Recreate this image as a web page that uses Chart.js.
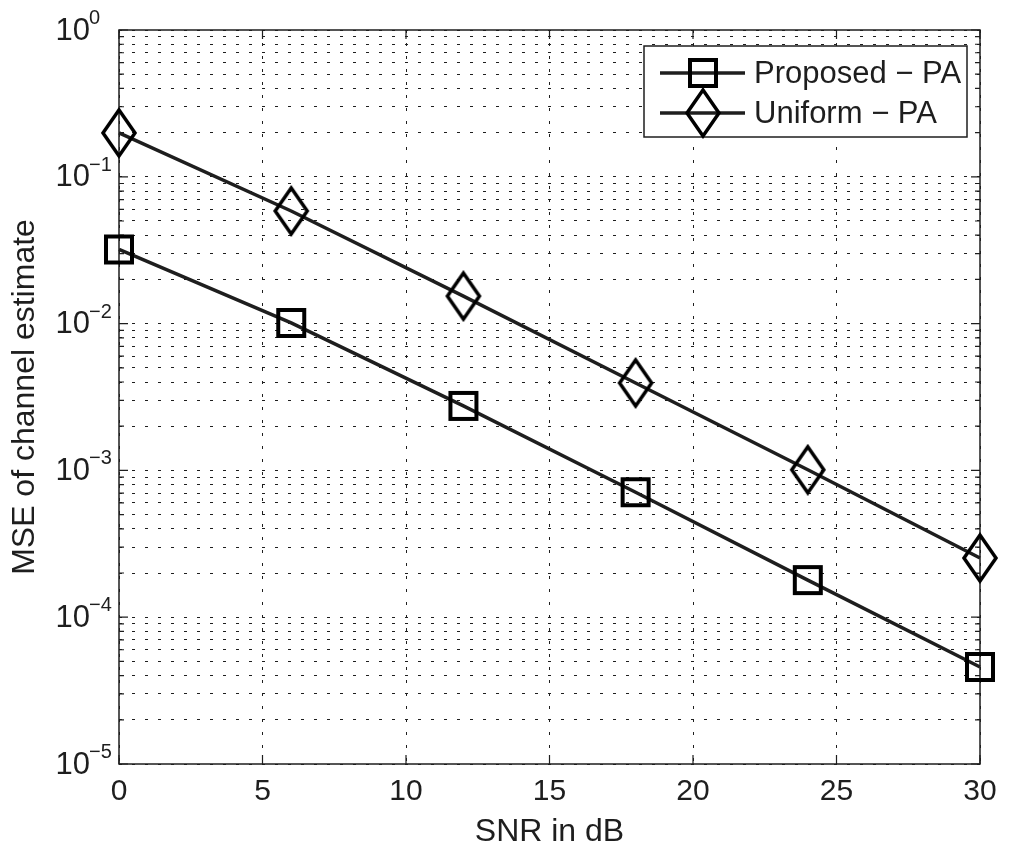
<!DOCTYPE html>
<html lang="en">
<head>
    <meta charset="UTF-8">
    <title>MSE of channel estimate vs SNR</title>
    <script src="https://cdn.jsdelivr.net/npm/chart.js"></script>
    <style>
        body { margin: 0; background: #fff; }
        canvas { display: block; }
    </style>
</head>
<body>
    <canvas id="mseChart" width="1014" height="856"></canvas>
    <script>
        // values
        const snrDb = [0, 6, 12, 18, 24, 30];
        const proposedPA = [0.032, 0.0101, 0.00275, 0.00071, 0.000179, 0.0000458];
        const uniformPA = [0.199, 0.0585, 0.0154, 0.00394, 0.00101, 0.000253];
        const seriesNames = ['Proposed \u2212 PA', 'Uniform \u2212 PA'];
        const xTicks = [0, 5, 10, 15, 20, 25, 30];
        const yExponents = [-5, -4, -3, -2, -1, 0];

        const ink = '#1e1e1e';
        const fontFamily = '"Liberation Sans", Arial, Helvetica, sans-serif';

        function markerCanvas(kind) {
            const c = document.createElement('canvas');
            const g = c.getContext('2d');
            g.strokeStyle = ink;
            if (kind === 'square') {
                c.width = 32; c.height = 32;
                g.lineWidth = 4;
                g.strokeRect(3, 3, 26, 26);
            } else {
                c.width = 38; c.height = 52;
                g.lineWidth = 3.5;
                g.beginPath();
                g.moveTo(19, 3);
                g.lineTo(35, 26);
                g.lineTo(19, 49);
                g.lineTo(3, 26);
                g.closePath();
                g.stroke();
            }
            return c;
        }
        const squareMark = markerCanvas('square');
        const diamondMark = markerCanvas('diamond');

        const toPoints = ys => snrDb.map((x, i) => ({ x: x, y: ys[i] }));

        // frame, inward ticks, y labels with exponents, legend
        const matlabLook = {
            id: 'matlabLook',
            beforeDatasetsDraw(chart) {
                const { ctx, chartArea: a } = chart;
                const xs = chart.scales.x, ys = chart.scales.y;
                ctx.save();
                ctx.strokeStyle = ink;
                ctx.lineWidth = 1.5;
                ctx.strokeRect(a.left, a.top, a.right - a.left, a.bottom - a.top);
                ctx.lineWidth = 1.2;
                ctx.beginPath();
                xTicks.forEach(v => {
                    const px = xs.getPixelForValue(v);
                    ctx.moveTo(px, a.bottom); ctx.lineTo(px, a.bottom - 9);
                    ctx.moveTo(px, a.top); ctx.lineTo(px, a.top + 9);
                });
                ys.ticks.forEach(t => {
                    const py = ys.getPixelForValue(t.value);
                    const len = t.major ? 9 : 5;
                    ctx.moveTo(a.left, py); ctx.lineTo(a.left + len, py);
                    ctx.moveTo(a.right, py); ctx.lineTo(a.right - len, py);
                });
                ctx.stroke();
                ctx.restore();
            },
            afterDraw(chart) {
                const { ctx } = chart;
                const ys = chart.scales.y;
                ctx.save();
                ctx.fillStyle = ink;
                yExponents.forEach(k => {
                    const py = ys.getPixelForValue(Math.pow(10, k));
                    ctx.font = '31px ' + fontFamily;
                    ctx.textAlign = 'right';
                    ctx.textBaseline = 'middle';
                    ctx.fillText('10', 90, py + 1);
                    ctx.font = '20px ' + fontFamily;
                    ctx.textAlign = 'left';
                    ctx.textBaseline = 'alphabetic';
                    ctx.fillText(k < 0 ? '\u2212' + (-k) : String(k), 89, py - 6);
                });

                // legend box
                const box = { x: 644, y: 46, w: 323, h: 91 };
                ctx.fillStyle = '#fff';
                ctx.fillRect(box.x, box.y, box.w, box.h);
                ctx.strokeStyle = ink;
                ctx.lineWidth = 1.5;
                ctx.strokeRect(box.x, box.y, box.w, box.h);
                const marks = [squareMark, diamondMark];
                const rows = [73, 113];
                seriesNames.forEach((name, i) => {
                    const y = rows[i];
                    ctx.lineWidth = 3.5;
                    ctx.beginPath();
                    ctx.moveTo(660, y); ctx.lineTo(745, y);
                    ctx.stroke();
                    const m = marks[i];
                    ctx.fillStyle = '#fff';
                    ctx.drawImage(m, 703 - m.width / 2, y - m.height / 2);
                    ctx.fillStyle = ink;
                    ctx.font = '31px ' + fontFamily;
                    ctx.textAlign = 'left';
                    ctx.textBaseline = 'middle';
                    ctx.fillText(name, 754, y + 1);
                });
                ctx.restore();
            }
        };

        new Chart(document.getElementById('mseChart'), {
            type: 'line',
            data: {
                datasets: [
                    {
                        label: seriesNames[0],
                        data: toPoints(proposedPA),
                        borderColor: ink,
                        borderWidth: 3.5,
                        pointStyle: squareMark,
                        clip: false
                    },
                    {
                        label: seriesNames[1],
                        data: toPoints(uniformPA),
                        borderColor: ink,
                        borderWidth: 3.5,
                        pointStyle: diamondMark,
                        clip: false
                    }
                ]
            },
            options: {
                responsive: false,
                animation: false,
                layout: { padding: { top: 30, right: 34, bottom: 0, left: 0 } },
                plugins: {
                    legend: { display: false },
                    tooltip: { enabled: false }
                },
                scales: {
                    x: {
                        type: 'linear',
                        min: 0,
                        max: 30,
                        afterBuildTicks: s => { s.ticks = xTicks.map(v => ({ value: v })); },
                        afterFit: s => { s.height = 92; },
                        grid: { color: ink, lineWidth: 1, drawTicks: false },
                        border: { display: false, dash: [3, 10] },
                        ticks: {
                            color: ink,
                            padding: 10,
                            font: { family: fontFamily, size: 30 }
                        },
                        title: {
                            display: true,
                            text: 'SNR in dB',
                            color: ink,
                            padding: { top: 0, bottom: 5 },
                            font: { family: fontFamily, size: 32 }
                        }
                    },
                    y: {
                        type: 'logarithmic',
                        min: 1e-5,
                        max: 1,
                        afterBuildTicks: s => {
                            const t = [];
                            yExponents.forEach(k => {
                                t.push({ value: Math.pow(10, k), major: true });
                                if (k < 0) {
                                    for (let m = 2; m <= 9; m++) t.push({ value: m * Math.pow(10, k), major: false });
                                }
                            });
                            s.ticks = t;
                        },
                        afterFit: s => { s.width = 119; },
                        grid: { color: ink, lineWidth: 1, drawTicks: false },
                        border: { display: false, dash: [3, 10] },
                        ticks: { display: false },
                        title: {
                            display: true,
                            text: 'MSE of channel estimate',
                            color: ink,
                            padding: { top: 6, bottom: 0 },
                            font: { family: fontFamily, size: 32 }
                        }
                    }
                }
            },
            plugins: [matlabLook]
        });
    </script>
</body>
</html>
